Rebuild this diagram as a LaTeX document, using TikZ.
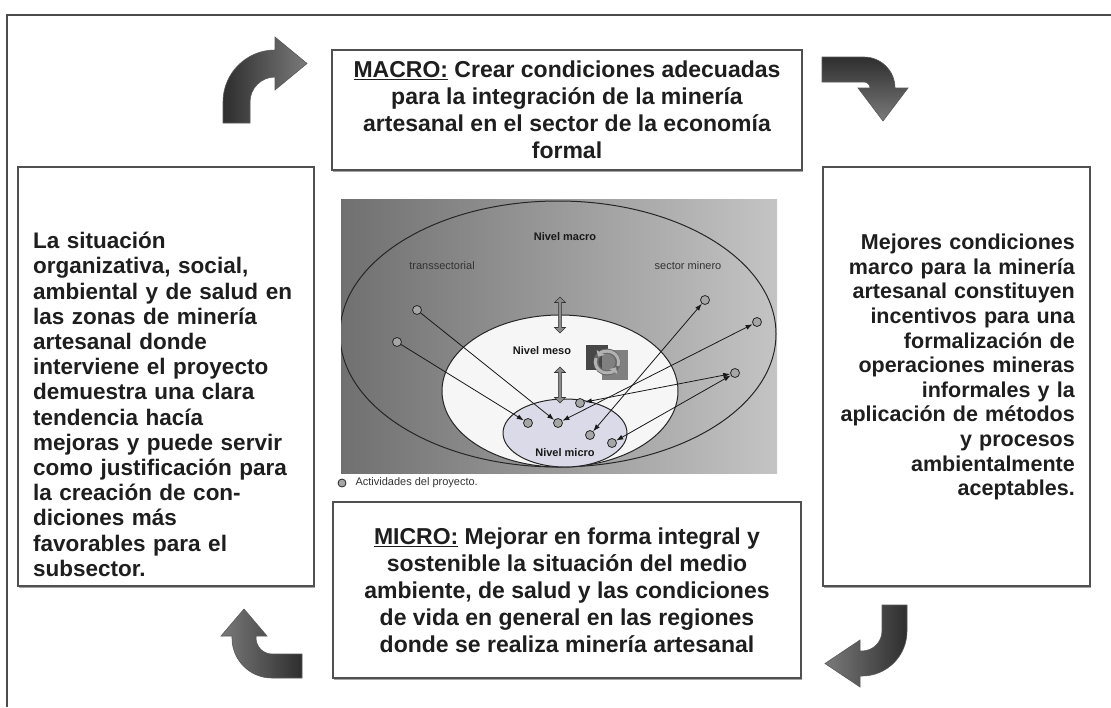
\documentclass[tikz,border=0pt]{standalone}
\usepackage{fontspec}
\setmainfont{Liberation Sans}
\usetikzlibrary{shapes.arrows,arrows.meta,shadows}
\definecolor{txt}{HTML}{1E1E1E}
\definecolor{bord}{HTML}{505050}
\definecolor{arrdark}{HTML}{2E2E2E}
\definecolor{arrlight}{HTML}{7A7A7A}
\begin{document}
\begin{tikzpicture}[x=1pt,y=-1pt,
  box/.style={draw=bord, line width=1.3pt, fill=white, inner ysep=0pt, text=txt,
    drop shadow={shadow xshift=0.6pt, shadow yshift=-2pt, fill=black!45, opacity=0.8}},
  bigfont/.style={font=\bfseries\fontsize{23}{27}\selectfont},
  sidefont/.style={font=\bfseries\fontsize{22.5}{25.2}\selectfont, text=txt, inner sep=0pt},
  rightfont/.style={font=\bfseries\fontsize{21.5}{24.6}\selectfont, text=txt, inner sep=0pt},
  bigarrow/.style={draw=black!65, line width=0.6pt},
  act/.style={circle, minimum size=9pt, inner sep=0pt, fill=black!35, draw=black!85, line width=0.8pt},
  conn/.style={line width=0.8pt, black!90, -{Latex[length=7pt,width=5pt]}},
  dconn/.style={line width=0.8pt, black!90, {Latex[length=7pt,width=5pt]}-{Latex[length=7pt,width=5pt]}},
  lvl/.style={font=\bfseries\fontsize{11}{13}\selectfont, text=black!90},
  small/.style={font=\fontsize{11}{13}\selectfont, text=black!80},
  dblarr/.style={double arrow, rotate=90, minimum height=36pt, minimum width=11pt,
    double arrow head extend=3pt, inner sep=1pt, fill=black!45, draw=black!80, line width=0.6pt}
]
\useasboundingbox (0,0) rectangle (1111,707);
\fill[white] (0,0) rectangle (1111,707);
% outer frame
\draw[line width=1.5pt, black!70] (1111,15) -- (7,15) -- (7,707);

% text boxes
\node[box, bigfont, minimum width=470pt, minimum height=120pt, align=center] (macro) at (567,110)
  {\underline{MACRO:} Crear condiciones adecuadas\\para la integración de la minería\\artesanal en el sector de la economía\\formal};
\node[box, bigfont, minimum width=468pt, minimum height=176pt, align=center] (micro) at (567,590)
  {\underline{MICRO:} Mejorar en forma integral y\\sostenible la situación del medio\\ambiente, de salud y las condiciones\\de vida en general en las regiones\\donde se realiza minería artesanal};
\node[box, minimum width=296pt, minimum height=419pt] (left) at (166,376.5) {};
\node[sidefont, text width=270pt, align=left, anchor=north west] (lefttext) at (33,232)
  {La situación\\organizativa, social,\\ambiental y de salud en\\las zonas de minería\\artesanal donde\\interviene el proyecto\\demuestra una clara\\tendencia hacía\\mejoras y puede servir\\como justificación para\\la creación de con-\\diciones más\\favorables para el\\subsector.};
\node[box, minimum width=267pt, minimum height=419pt] (right) at (956.5,376.5) {};
\node[rightfont, text width=240pt, align=right, anchor=north east] (righttext) at (1075,234)
  {Mejores condiciones\\marco para la minería\\artesanal constituyen\\incentivos para una\\formalización de\\operaciones mineras\\informales y la\\aplicación de métodos\\y procesos\hspace*{100pt}\\ambientalmente\hspace*{75pt}\\aceptables.};

% big curved arrows
\shadedraw[bigarrow, left color=arrdark, right color=arrlight]
  (223,123) -- (223,102) .. controls (223,73.3) and (246.3,50) .. (275,50) -- (275,37) -- (307,63.5)
  -- (275,90) -- (275,77) .. controls (261.2,77) and (250,88.2) .. (250,102) -- (250,123) -- cycle;
\shadedraw[bigarrow, top color=arrdark, bottom color=arrlight]
  (822,57) -- (864,57) .. controls (881.1,57) and (895,70.9) .. (895,88) -- (908,88) -- (883,121)
  -- (858,88) -- (870,88) .. controls (870,84.7) and (867.3,82) .. (864,82) -- (822,82) -- cycle;
\shadedraw[bigarrow, right color=arrdark, left color=arrlight]
  (302,654) -- (272,654) .. controls (263.2,654) and (256,646.8) .. (256,638) -- (256,636) -- (267,636)
  -- (244,609) -- (221,636) -- (232,636) -- (232,638) .. controls (232,660.1) and (249.9,678) .. (272,678)
  -- (302,678) -- cycle;
\shadedraw[bigarrow, right color=arrdark, left color=arrlight]
  (882,605) -- (907,605) -- (907,631) .. controls (907,655.9) and (886.9,676) .. (862,676) -- (860,676)
  -- (860,687) -- (825,663.5) -- (860,640) -- (860,651) -- (862,651) .. controls (873,651) and (882,642) .. (882,631) -- cycle;

% central picture
\begin{scope}
  \clip (341,199) rectangle (777,473);
  \shade[left color={rgb,255:red,112;green,112;blue,112}, right color={rgb,255:red,196;green,196;blue,196}]
    (341,199) rectangle (777,473);
  \draw[line width=1pt, black!85] (558,334) ellipse [x radius=218, y radius=133];
  \filldraw[fill={rgb,255:red,246;green,246;blue,246}, draw=black!85, line width=1pt]
    (560,391) ellipse [x radius=118, y radius=76];
  \filldraw[fill={rgb,255:red,218;green,218;blue,232}, draw=black!85, line width=1pt]
    (565,433) ellipse [x radius=62, y radius=34];
\end{scope}

\node[lvl] (nmacro) at (565,237) {Nivel macro};
\node[small] (trans) at (442,266) {transsectorial};
\node[small] (secmin) at (688,266) {sector minero};
\node[lvl] (nmeso) at (542,351) {Nivel meso};
\node[lvl] (nmicro) at (565,453) {Nivel micro};

% recycle icon
\fill[black!72] (586,345) rectangle (608,370);
\fill[black!50] (602,350) rectangle (628,380);
\draw[line width=5pt, black!60] (607,362) circle[radius=11];
\draw[line width=3pt, black!30, -{Triangle[length=5pt,width=9pt]}] (596,358) arc[start angle=200, end angle=30, radius=11];
\draw[line width=3pt, black!30, -{Triangle[length=5pt,width=9pt]}] (618,366) arc[start angle=20, end angle=-150, radius=11];

% double arrows
\node[dblarr] (da1) at (560,315) {};
\node[dblarr] (da2) at (560,385) {};

% activity circles
\node[act] (a) at (417,310) {};
\node[act] (b) at (397,342) {};
\node[act] (c) at (705,300) {};
\node[act] (d) at (757,322) {};
\node[act] (e) at (735,373) {};
\node[act] (m1) at (528,423) {};
\node[act] (m2) at (558,423) {};
\node[act] (m3) at (580,403) {};
\node[act] (m4) at (590,435) {};
\node[act] (m5) at (612,443) {};

\draw[conn] (a) -- (m2);
\draw[conn] (b) -- (m1);
\draw[dconn] (m4) -- (c);
\draw[dconn] (m2) -- (d);
\draw[dconn] (m3) -- (e);
\draw[dconn] (m5) -- (e);

% legend
\node[act, minimum size=8pt] (leg) at (342,483) {};
\node[small, anchor=west] (legt) at (352,483) {Actividades del proyecto.};
\end{tikzpicture}
\end{document}
